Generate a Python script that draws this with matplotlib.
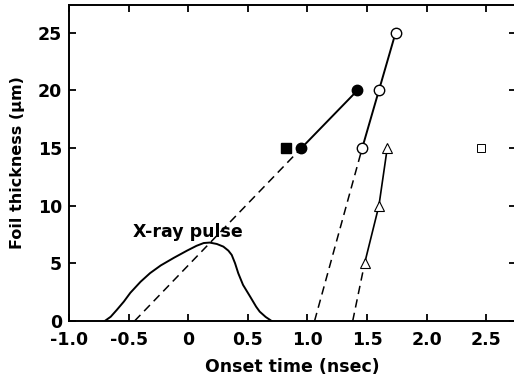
import matplotlib
matplotlib.use("Agg")
from matplotlib import pyplot as plt

plt.rcParams['font.family'] = ['DejaVu Sans']
plt.rcParams['font.weight'] = 'bold'

# filled symbols (series 1)
filled_x = [0.95, 1.42]
filled_y = [15, 20]
filled_sq_x = [0.82]
filled_sq_y = [15]
filled_fit_x = [-0.45, 0.95]
filled_fit_y = [0, 15]

# open circles (series 2)
open_x = [1.46, 1.60, 1.74]
open_y = [15, 20, 25]
open_fit_x = [1.06, 1.46]
open_fit_y = [0, 15]

# open triangles (series 3)
tri_x = [1.48, 1.60, 1.67]
tri_y = [5, 10, 15]
tri_fit_x = [1.38, 1.48]
tri_fit_y = [0, 5]

# open square
osq_x = [2.46]
osq_y = [15]

# x-ray pulse profile
pulse_x = [-0.70, -0.65, -0.60, -0.54, -0.485, -0.40, -0.32, -0.23, -0.12,
           -0.01, 0.07, 0.13, 0.18, 0.24, 0.295, 0.337, 0.365, 0.393, 0.42,
           0.46, 0.52, 0.57, 0.60, 0.65, 0.70]
pulse_y = [0, 0.37, 0.95, 1.68, 2.45, 3.40, 4.15, 4.82, 5.48,
           6.10, 6.52, 6.76, 6.80, 6.68, 6.45, 6.10, 5.73, 5.01, 4.14,
           3.13, 2.11, 1.24, 0.81, 0.35, 0]

xticks = [-1.0, -0.5, 0, 0.5, 1.0, 1.5, 2.0, 2.5]
xticklabels = ['-1.0', '-0.5', '0', '0.5', '1.0', '1.5', '2.0', '2.5']
yticks = [0, 5, 10, 15, 20, 25]

fig = plt.figure(figsize=(5.14, 3.77), dpi=100)
ax = fig.add_axes([69 / 514, 56 / 377, 447 / 514, 316 / 377])

dash = (0, (5.5, 3.5))
ax.plot(pulse_x, pulse_y, color='black', lw=1.4)
ax.plot(filled_fit_x, filled_fit_y, color='black', lw=1.1, linestyle=dash)
ax.plot(open_fit_x, open_fit_y, color='black', lw=1.1, linestyle=dash)
ax.plot(tri_fit_x, tri_fit_y, color='black', lw=1.1, linestyle=dash)

ax.plot(filled_x, filled_y, color='black', lw=1.4, marker='o', markersize=7.5,
        markerfacecolor='black')
ax.plot(filled_sq_x, filled_sq_y, linestyle='none', marker='s', markersize=6.8,
        color='black')
ax.plot(open_x, open_y, color='black', lw=1.4, marker='o', markersize=7.5,
        markerfacecolor='white', markeredgewidth=1.0)
ax.plot(tri_x, tri_y, color='black', lw=1.2, marker='^', markersize=7,
        markerfacecolor='white', markeredgewidth=0.8)
ax.plot(osq_x, osq_y, linestyle='none', marker='s', markersize=6,
        markerfacecolor='white', markeredgecolor='black', markeredgewidth=0.7)

ax.text(0.0, 7.7, 'X-ray pulse', ha='center', va='center', fontsize=12.5,
        fontweight='bold')

ax.set_xlim(-1.0, 2.75)
ax.set_ylim(0, 27.4)
ax.set_xticks(xticks)
ax.set_xticklabels(xticklabels)
ax.set_yticks(yticks)
ax.tick_params(direction='in', top=True, right=True, length=5, width=1.3,
               labelsize=12.5)
ax.tick_params(axis='x', pad=7)
ax.tick_params(axis='y', pad=5)
for s in ax.spines.values():
    s.set_linewidth(1.4)

ax.set_xlabel('Onset time (nsec)', fontsize=12.5, fontweight='bold', labelpad=7)
ax.set_ylabel('Foil thickness (µm)', fontsize=11.5, fontweight='bold', labelpad=9)

fig.savefig('out.png', dpi=100)
